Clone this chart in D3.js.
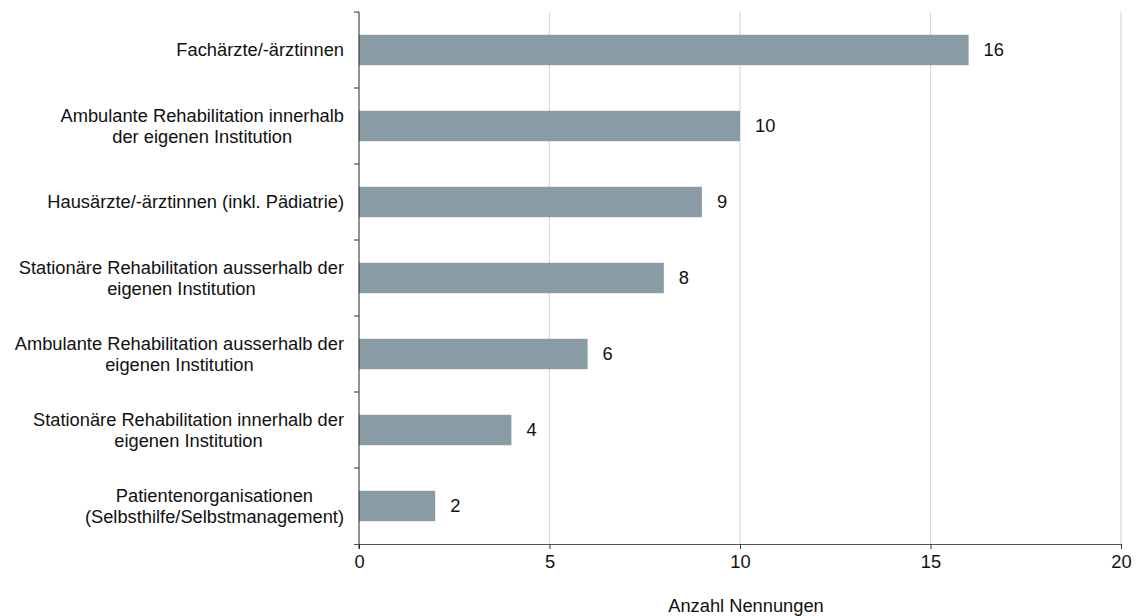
<!DOCTYPE html>
<html>
<head>
<meta charset="utf-8">
<script src="https://cdn.jsdelivr.net/npm/d3@7"></script>
<style>
  body { margin: 0; background: #fff; }
  svg { display: block; font-family: "Liberation Sans", Arial, sans-serif; }
</style>
</head>
<body>
<svg id="chart" width="1141" height="616"></svg>
<script>
// Categories (top to bottom), each split into display lines
const categories = [
  ["Fachärzte/-ärztinnen"],
  ["Ambulante Rehabilitation innerhalb", "der eigenen Institution"],
  ["Hausärzte/-ärztinnen (inkl. Pädiatrie)"],
  ["Stationäre Rehabilitation ausserhalb der", "eigenen Institution"],
  ["Ambulante Rehabilitation ausserhalb der", "eigenen Institution"],
  ["Stationäre Rehabilitation innerhalb der", "eigenen Institution"],
  ["Patientenorganisationen", "(Selbsthilfe/Selbstmanagement)"]
];
const values = [16, 10, 9, 8, 6, 4, 2];
const xTicks = [0, 5, 10, 15, 20];
const xTitle = "Anzahl Nennungen";

const FS = 18.3;
const svg = d3.select("#chart");
const margin = { left: 359, right: 20, top: 12, bottom: 72 };
const W = 1141, H = 616;

const x = d3.scaleLinear().domain([0, 20]).range([margin.left, W - margin.right]);
const y = d3.scaleBand()
  .domain(d3.range(categories.length))
  .range([margin.top, H - margin.bottom])
  .paddingInner(0.6)
  .paddingOuter(0.3);

// vertical gridlines
svg.append("g").selectAll("line")
  .data(xTicks.filter(d => d > 0))
  .join("line")
  .attr("x1", d => x(d)).attr("x2", d => x(d))
  .attr("y1", margin.top).attr("y2", H - margin.bottom)
  .attr("stroke", "#d9d9d9").attr("stroke-width", 1.2);

// bars
svg.append("g").selectAll("rect")
  .data(values)
  .join("rect")
  .attr("x", x(0))
  .attr("y", (d, i) => y(i))
  .attr("width", d => x(d) - x(0))
  .attr("height", y.bandwidth())
  .attr("fill", "#899ba5");

// value labels
svg.append("g").selectAll("text")
  .data(values)
  .join("text")
  .attr("x", d => x(d) + 15)
  .attr("y", (d, i) => y(i) + y.bandwidth() / 2)
  .attr("dy", "0.35em")
  .attr("font-size", FS)
  .attr("fill", "#111")
  .text(d => d);

// x axis
const xAxis = svg.append("g")
  .attr("transform", `translate(0,${H - margin.bottom})`)
  .call(d3.axisBottom(x).tickValues(xTicks).tickSize(5).tickPadding(6).tickSizeOuter(0));
xAxis.select(".domain").attr("stroke", "#555").attr("d", `M${x(0) - 5},0.5H${x(20)}`);
xAxis.selectAll(".tick line").attr("stroke", "#333");
xAxis.selectAll("text").attr("font-size", FS).attr("fill", "#111")
  .attr("font-family", "Liberation Sans, Arial, sans-serif");

// y axis: tick marks on band boundaries
const bounds = d3.range(categories.length + 1).map(i => margin.top + i * (H - margin.top - margin.bottom) / categories.length);
svg.append("line")
  .attr("x1", x(0)).attr("x2", x(0))
  .attr("y1", margin.top).attr("y2", H - margin.bottom + 5)
  .attr("stroke", "#222").attr("stroke-width", 1);
svg.append("g").selectAll("line")
  .data(bounds.slice(0, -1))
  .join("line")
  .attr("x1", x(0) - 5).attr("x2", x(0))
  .attr("y1", d => d).attr("y2", d => d)
  .attr("stroke", "#333");

// category labels: lines centred on each other, block right-aligned to the axis
const labelRight = x(0) - 15;
const labelG = svg.append("g");
categories.forEach((lines, i) => {
  const cy = y(i) + y.bandwidth() / 2;
  const lh = 20.5;
  const t = labelG.append("text")
    .attr("text-anchor", "middle")
    .attr("font-size", FS)
    .attr("fill", "#111");
  const spans = lines.map((ln, j) => t.append("tspan")
    .attr("y", cy + (j - (lines.length - 1) / 2) * lh)
    .attr("dy", "0.35em")
    .text(ln));
  const maxW = d3.max(spans, s => s.node().getComputedTextLength());
  spans.forEach(s => s.attr("x", labelRight - maxW / 2));
});

// axis title
svg.append("text")
  .attr("x", 746).attr("y", 612)
  .attr("text-anchor", "middle")
  .attr("font-size", FS)
  .attr("fill", "#111")
  .text(xTitle);
</script>
</body>
</html>
